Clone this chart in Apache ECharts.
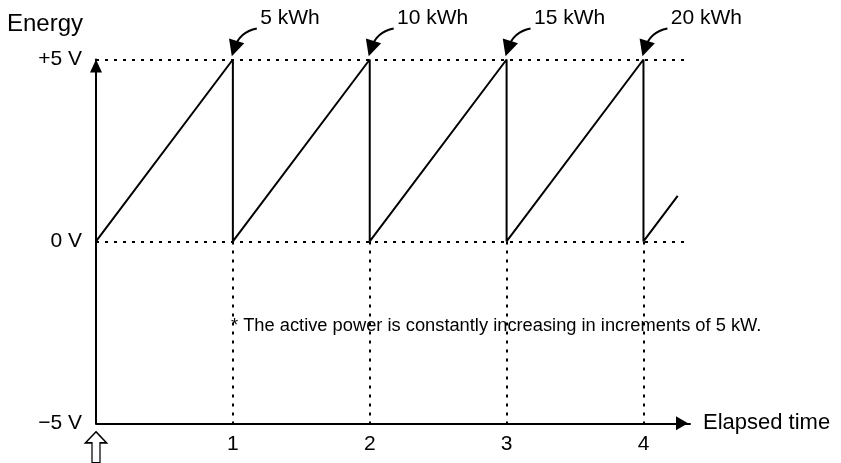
<!DOCTYPE html>
<html>
<head>
<meta charset="utf-8">
<script src="https://cdn.jsdelivr.net/npm/echarts@6/dist/echarts.min.js"></script>
<style>html,body{margin:0;padding:0;background:#fff;}#c{width:841px;height:463px;}</style>
</head>
<body>
<div id="c"></div>
<script>
// ---- data ----
const sawX = [0, 1, 1, 2, 2, 3, 3, 4, 4, 4.25];
const sawY = [0, 5, 0, 5, 0, 5, 0, 5, 0, 1.25];
const peaksX = [1, 2, 3, 4];
const peakLabels = ['5 kWh', '10 kWh', '15 kWh', '20 kWh'];
const yTickValues = [-5, 0, 5];
const yTickLabels = ['\u22125 V', '0 V', '+5 V'];
const xTickValues = [1, 2, 3, 4];
const xTickLabels = ['1', '2', '3', '4'];
const levelValues = [0, 5];
const xAxisName = 'Elapsed time';
const yAxisName = 'Energy';
const noteText = '* The active power is constantly increasing in increments of 5 kW.';

// ---- layout constants ----
const X_MAX = 4.34, Y_MIN = -5, Y_MAX = 5;
const ARROW_START_DX = 0.175, ARROW_START_Y = 5.85;
const ARROW_END_DX = 0.01, ARROW_END_Y = 5.3;
const LABEL_DX = 0.2, LABEL_Y = 6.13;
const FONT = 'Liberation Sans, Arial, sans-serif';
const DOT = [3, 6];

const sawData = sawX.map((x, i) => [x, sawY[i]]);

const markLines = [];
levelValues.forEach(v => {
  markLines.push([{ coord: [0, v] }, { coord: [X_MAX, v] }]);
});
peaksX.forEach(x => {
  markLines.push([{ coord: [x, 0] }, { coord: [x, Y_MIN] }]);
});

const arrowLines = peaksX.map(x => ({
  coords: [[x + ARROW_START_DX, ARROW_START_Y], [x + ARROW_END_DX, ARROW_END_Y]]
}));
const labelPoints = peaksX.map((x, i) => ({ value: [x + LABEL_DX, LABEL_Y], name: peakLabels[i] }));

const chart = echarts.init(document.getElementById('c'), null, { renderer: 'canvas' });
chart.setOption({
  animation: false,
  backgroundColor: '#ffffff',
  textStyle: { fontFamily: FONT, color: '#000' },
  title: {
    text: noteText,
    left: 231, top: 317,
    padding: 0,
    textStyle: { fontFamily: FONT, fontSize: 18.3, fontWeight: 'normal', color: '#000' }
  },
  grid: { left: 96, top: 59.5, width: 594, height: 363.8 },
  xAxis: {
    type: 'value', min: 0, max: X_MAX, interval: 1,
    name: xAxisName, nameLocation: 'end', nameGap: 13,
    nameTextStyle: { fontFamily: FONT, fontSize: 22, color: '#000', verticalAlign: 'middle' },
    axisLine: { onZero: false, show: true, lineStyle: { color: '#000', width: 2 },
      symbol: ['none', 'triangle'], symbolSize: [14, 12], symbolOffset: [0, -8] },
    axisTick: { show: false },
    splitLine: { show: false },
    axisLabel: {
      show: true, margin: 10, fontFamily: FONT, fontSize: 21, color: '#000',
      showMaxLabel: false,
      formatter: v => { const i = xTickValues.indexOf(v); return i >= 0 ? xTickLabels[i] : ''; }
    }
  },
  yAxis: {
    type: 'value', min: Y_MIN, max: Y_MAX, interval: 5,
    name: yAxisName, nameLocation: 'end', nameGap: 35,
    nameTextStyle: { fontFamily: FONT, fontSize: 24, color: '#000', align: 'right', verticalAlign: 'middle', padding: [0, 13, 0, 0] },
    axisLine: { show: true, lineStyle: { color: '#000', width: 2 },
      symbol: ['none', 'triangle'], symbolSize: [12, 13], symbolOffset: [0, -6.5] },
    axisTick: { show: false },
    splitLine: { show: false },
    axisLabel: {
      show: true, margin: 14, fontFamily: FONT, fontSize: 21, color: '#000',
      formatter: v => { const i = yTickValues.indexOf(v); return i >= 0 ? yTickLabels[i] : ''; }
    }
  },
  series: [
    {
      type: 'line', data: sawData, showSymbol: false, symbol: 'none', clip: false,
      lineStyle: { color: '#000', width: 2 },
      z: 3,
      markLine: {
        silent: true, symbol: ['none', 'none'], label: { show: false },
        lineStyle: { color: '#000', width: 2, type: DOT },
        emphasis: { disabled: true },
        data: markLines
      }
    },
    {
      type: 'lines', coordinateSystem: 'cartesian2d', clip: false,
      data: arrowLines, polyline: false,
      symbol: ['none', 'triangle'], symbolSize: [14, 16],
      lineStyle: { color: '#000', width: 2, curveness: -0.3, opacity: 1 },
      z: 4
    },
    {
      type: 'scatter', data: labelPoints, symbolSize: 0, clip: false,
      itemStyle: { opacity: 1 },
      label: { show: true, position: 'right', distance: 0, formatter: p => p.name,
        fontFamily: FONT, fontSize: 21, color: '#000', opacity: 1 },
      z: 4
    },
    {
      type: 'scatter', data: [[0, Y_MIN]], clip: false,
      symbol: 'path://M10.5,0 L21,11 L14.5,11 L14.5,31 L6.5,31 L6.5,11 L0,11 Z',
      symbolSize: [21, 31], symbolOffset: [0, 24],
      itemStyle: { color: '#fff', borderColor: '#000', borderWidth: 1.5, opacity: 1 },
      z: 4
    }
  ]
});
</script>
</body>
</html>
